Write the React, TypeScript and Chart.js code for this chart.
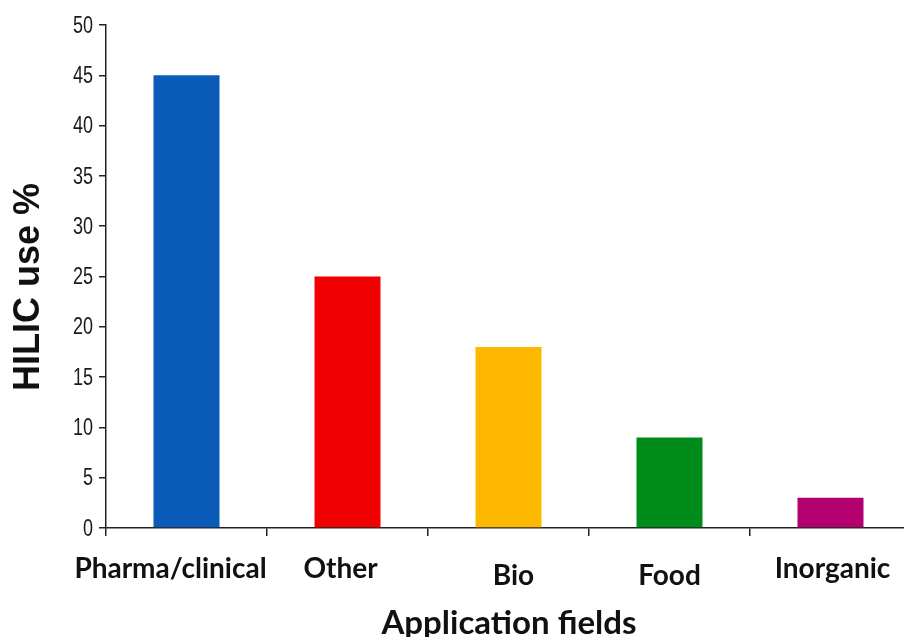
import React, { useEffect, useRef } from 'react';
import { Chart, registerables } from 'chart.js';

Chart.register(...registerables);

const categories = ['Pharma/clinical', 'Other', 'Bio', 'Food', 'Inorganic'];
const usePercent = [45, 25, 18, 9, 3];
const barColors = ['#0B5BB8', '#F00000', '#FFB800', '#008C1A', '#B4006E'];
const yMin = 0;
const yMax = 50;
const yStep = 5;
const yTitle = 'HILIC use %';
const xTitle = 'Application fields';

// style-only label nudges (dx, dy) in px
const labelNudges: [number, number][] = [[-16, 0], [-7, 0], [5, 7], [0, 7], [2, 0]];

const textPlugin = {
  id: 'customText',
  afterDraw(chart: any) {
    const { ctx, chartArea, scales } = chart;
    const xs = scales.x;
    const ys = scales.y;
    ctx.save();
    ctx.fillStyle = '#111';
    // y tick labels (condensed)
    ctx.textAlign = 'right';
    ctx.textBaseline = 'middle';
    ctx.font = '24px "Liberation Sans"';
    ys.ticks.forEach((t: any) => {
      const py = ys.getPixelForValue(t.value);
      ctx.save();
      ctx.translate(93, py + 1);
      ctx.scale(0.75, 1);
      ctx.fillStyle = '#1a1a1a';
      ctx.fillText(String(t.value), 0, 0);
      ctx.restore();
    });
    // x category labels
    ctx.textAlign = 'center';
    ctx.textBaseline = 'alphabetic';
    ctx.font = 'bold 28px Lato';
    categories.forEach((c, i) => {
      const px = xs.getPixelForValue(i) + labelNudges[i][0];
      ctx.fillText(c, px, chartArea.bottom + 50 + labelNudges[i][1]);
    });
    // x title
    ctx.font = 'bold 33px Lato';
    ctx.fillText(xTitle, 509, 634);
    // y title
    ctx.translate(29, 287);
    ctx.rotate(-Math.PI / 2);
    ctx.textBaseline = 'middle';
    ctx.font = 'bold 36px "Liberation Sans"';
    ctx.fillText(yTitle, 0, 0);
    ctx.restore();
  },
};

export default function App() {
  const ref = useRef<HTMLCanvasElement | null>(null);
  useEffect(() => {
    if (!ref.current) return;
    const chart = new Chart(ref.current, {
      type: 'bar',
      data: {
        labels: categories,
        datasets: [
          {
            data: usePercent,
            backgroundColor: barColors,
            borderWidth: 0,
            barPercentage: 0.41,
            categoryPercentage: 1,
          },
        ],
      },
      options: {
        responsive: false,
        animation: false,
        layout: { padding: { top: 25, left: 0, right: 0, bottom: 0 } },
        plugins: { legend: { display: false }, tooltip: { enabled: false } },
        scales: {
          x: {
            grid: { offset: true, drawOnChartArea: false, drawTicks: true, tickLength: 8, color: '#222', lineWidth: 1.5 },
            border: { display: true, color: '#222', width: 1.5 },
            ticks: { color: 'rgba(0,0,0,0)', autoSkip: false, maxRotation: 0, font: { size: 10 } },
            afterFit: (s: any) => { s.height = 109; },
          },
          y: {
            min: yMin,
            max: yMax,
            ticks: {
              stepSize: yStep,
              color: 'rgba(0,0,0,0)',
              padding: 4,
              font: { size: 16 },
            },
            grid: { drawOnChartArea: false, drawTicks: true, tickLength: 7, color: '#222', lineWidth: 1.5 },
            border: { display: true, color: '#222', width: 1.5 },
            afterFit: (s: any) => { s.width = 106; },
          },
        },
      },
      plugins: [textPlugin],
    });
    return () => chart.destroy();
  }, []);
  return (
    <div style={{ position: 'fixed', left: 0, top: 0, width: 904, height: 637, overflow: 'hidden', background: '#fff' }}>
      <canvas ref={ref} width={911} height={637} style={{ display: 'block' }} />
    </div>
  );
}
